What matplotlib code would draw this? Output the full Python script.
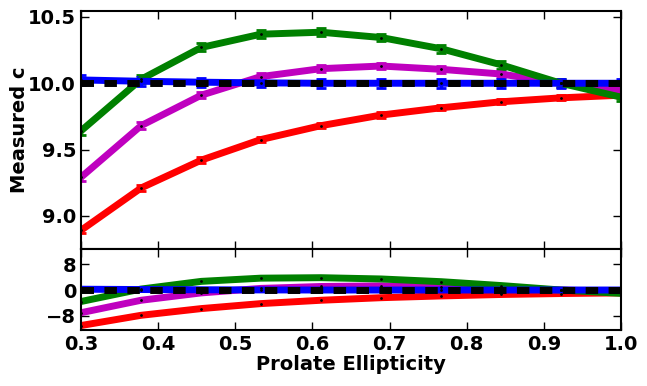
import matplotlib
matplotlib.use("Agg")
import matplotlib.pyplot as plt
import numpy as np

ellipticity = [0.3, 0.378, 0.456, 0.533, 0.611, 0.689, 0.767, 0.844, 0.922, 1.0]
true_c = 10.0

green_c = [9.64, 10.03, 10.27, 10.37, 10.385, 10.345, 10.26, 10.14, 10.0, 9.895]
green_err = [0.03, 0.03, 0.03, 0.03, 0.03, 0.03, 0.03, 0.03, 0.03, 0.03]
magenta_c = [9.29, 9.68, 9.91, 10.05, 10.11, 10.13, 10.105, 10.07, 10.0, 9.95]
magenta_err = [0.025, 0.025, 0.025, 0.025, 0.025, 0.025, 0.025, 0.025, 0.025, 0.025]
red_c = [8.89, 9.21, 9.42, 9.575, 9.68, 9.76, 9.815, 9.86, 9.89, 9.91]
red_err = [0.02, 0.02, 0.02, 0.02, 0.02, 0.02, 0.02, 0.02, 0.02, 0.02]
blue_c = [10.025, 10.015, 10.008, 10.003, 10.0, 10.0, 10.0, 10.0, 10.0, 10.0]
blue_err = [0.035, 0.035, 0.035, 0.035, 0.035, 0.035, 0.035, 0.035, 0.035, 0.035]

series = [
    (red_c, red_err, 'r'),
    (magenta_c, magenta_err, 'm'),
    (green_c, green_err, 'g'),
    (blue_c, blue_err, 'b'),
]

plt.rcParams['font.family'] = ['DejaVu Sans']
plt.rcParams['font.weight'] = 'bold'

fig = plt.figure(figsize=(6.47, 3.86), dpi=100)
ax1 = fig.add_axes([0.125, 0.355, 0.835, 0.6165])
ax2 = fig.add_axes([0.125, 0.145, 0.835, 0.209], sharex=ax1)

x = np.array(ellipticity)
for vals, err, col in series:
    ax1.errorbar(x, vals, yerr=err, color=col, lw=5, capsize=3.5, capthick=2,
                 elinewidth=2.5, zorder=2)
    ax1.plot(x, vals, 'k.', ms=2, zorder=3)
    resid = (np.array(vals) - true_c) / true_c * 100
    ax2.plot(x, resid, color=col, lw=5, zorder=2)
    ax2.plot(x, resid, 'k.', ms=2, zorder=3)

ax1.plot([0.3, 1.0], [true_c, true_c], color='k', lw=5, dashes=(1.8, 1.5), zorder=4)
ax2.plot([0.3, 1.0], [0, 0], color='k', lw=5, dashes=(1.8, 1.5), zorder=4)

ax1.set_xlim(0.3, 1.0)
ax1.set_ylim(8.75, 10.545)
ax1.set_yticks([9.0, 9.5, 10.0, 10.5])
ax2.set_ylim(-12.5, 12.7)
ax2.set_yticks([-8, 0, 8])
ax2.set_xticks([0.3, 0.4, 0.5, 0.6, 0.7, 0.8, 0.9, 1.0])
ax2.set_yticklabels(['\u22128', '0', '8'])

for ax in (ax1, ax2):
    ax.tick_params(direction='in', top=True, right=True, length=6, width=1,
                   labelsize=14)
    for lab in ax.get_xticklabels() + ax.get_yticklabels():
        lab.set_fontweight('bold')
    for s in ax.spines.values():
        s.set_linewidth(1.5)
plt.setp(ax1.get_xticklabels(), visible=False)

ax1.set_ylabel('Measured c', fontsize=14, fontweight='bold', labelpad=-1)
ax2.set_xlabel('Prolate Ellipticity', fontsize=14, fontweight='bold', labelpad=1)

fig.savefig('out.png', dpi=100)
